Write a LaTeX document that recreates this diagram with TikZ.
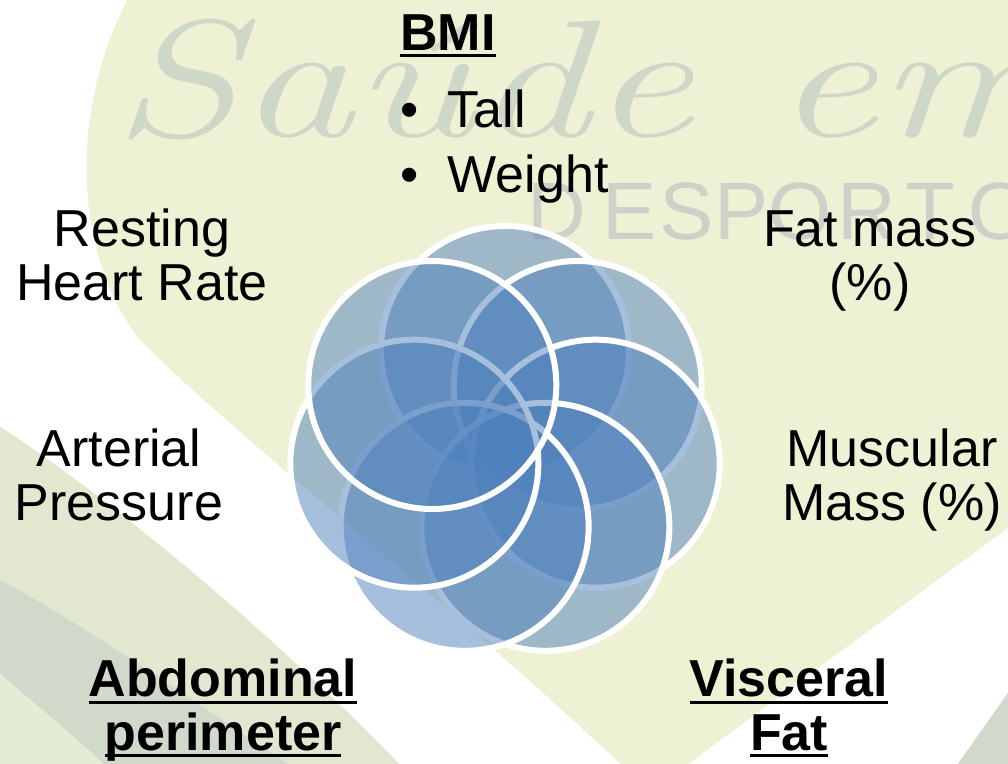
\documentclass[tikz,border=0pt]{standalone}
\usepackage{fontspec}
\usepackage{graphicx}
\usetikzlibrary{calc,positioning}
\newfontfamily\arialfont{Liberation Sans}
\definecolor{ringblue}{RGB}{79,129,189}
\definecolor{heartgreen}{RGB}{238,241,212}
\definecolor{bandgreen}{RGB}{226,232,208}
\definecolor{bandgrey}{RGB}{209,217,203}
\definecolor{lowgreen}{RGB}{228,236,213}
\definecolor{wmgreen}{RGB}{207,215,201}
\definecolor{wmgrey}{RGB}{206,208,202}
\newcommand{\undl}[1]{\setbox0\hbox{#1}\rlap{\rule[-5.25pt]{\wd0}{2.25pt}}\box0}

\begin{document}
\begin{tikzpicture}[x=0.75pt,y=-0.75pt,
		ring/.style={circle,minimum size=186pt,inner sep=0pt,fill=ringblue,fill opacity=0.5,draw=white,line width=4.5pt},
		lbl/.style={font=\arialfont\fontsize{39}{40}\selectfont,align=center,anchor=base,inner sep=0pt},
		lblb/.style={lbl,font=\arialfont\bfseries\fontsize{39}{40}\selectfont},
		wmletter/.style={font=\arialfont\fontsize{61}{61}\selectfont,text=wmgrey,anchor=base,inner sep=0pt}]
		\useasboundingbox (0,0) rectangle (1008,764);
		% slide background
		\begin{scope}
			\clip (0,0) rectangle (1008,764);
			\fill[white] (0,0) rectangle (1008,764);
			\fill[heartgreen] (650,792) -- (1100,460) -- (1100,-10) -- (133,-10) .. controls (70,100) and (70,250) .. (140,340) .. controls (250,450) and (450,600) .. cycle;
			\fill[bandgreen] (-10,420) .. controls (130,510) and (300,660) .. (410,775) -- (-10,775) -- cycle;
			\fill[bandgrey] (-10,575) .. controls (80,620) and (220,720) .. (305,775) -- (-10,775) -- cycle;
			\fill[lowgreen] (-10,665) .. controls (30,700) and (80,740) .. (115,775) -- (-10,775) -- cycle;
			\fill[bandgrey] (1020,676) -- (950,775) -- (1020,775) -- cycle;
			\node[anchor=base west,inner sep=0pt,text=wmgreen,font=\itshape\fontsize{125}{125}\selectfont] (wmscript) at (112,136) {\scalebox{1.38}[1]{Saúde em}};
			\foreach \ch/\cx [count=\k] in {D/557,E/630,S/687,P/742,O/800,R/867,T/930,O/1000}
				\node[wmletter] (wm\k) at (\cx,239) {\ch};
		\end{scope}
		% rings, clockwise from the top
		\coordinate (hub) at (505,443);
		\foreach \k in {0,...,6}
			\node[ring] (ring\k) at ($(hub)+({-90+\k*360/7}:93)$) {};
		% labels (base = last line)
		\node[lblb] (bmi) at (448,50) {\undl{BMI}};
		\node[lbl,align=left,anchor=base west,font=\arialfont\fontsize{39}{48.75}\selectfont] (bmilist) at (400,192) {\makebox[35.6pt][l]{\textbullet}Tall\\\makebox[35.6pt][l]{\textbullet}Weight};
		\node[lbl] (resting) at (142,300) {Resting\\Heart Rate};
		\node[lbl] (fatmass) at (870,300) {Fat mass\\(\%)};
		\node[lbl] (arterial) at (119,520) {Arterial\\Pressure};
		\node[lbl] (muscular) at (892,520) {Muscular\\Mass (\%)};
		\node[lblb] (abdominal) at (223,750) {\undl{Abdominal}\\\undl{perimeter}};
		\node[lblb] (visceral) at (789,750) {\undl{Visceral}\\\undl{Fat}};
\end{tikzpicture}
\end{document}
